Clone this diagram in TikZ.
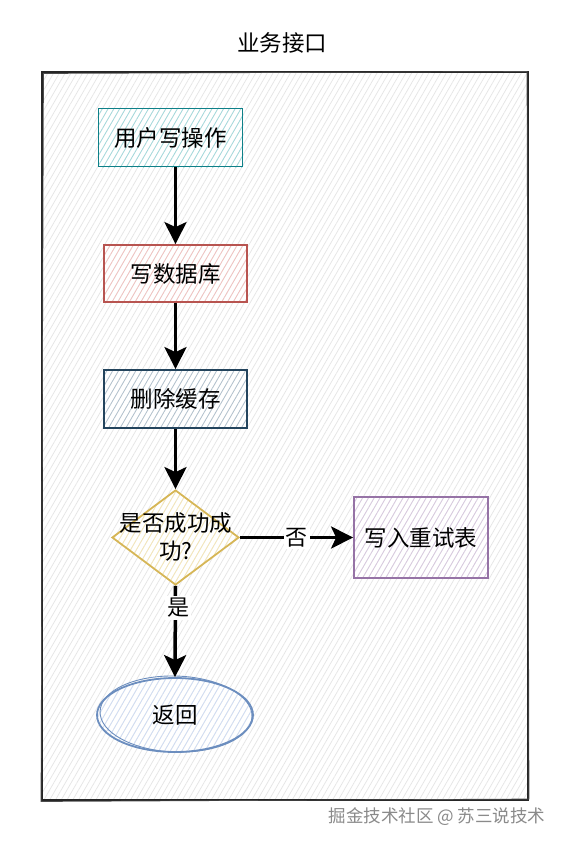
\documentclass[tikz,border=0pt]{standalone}
\usepackage{fontspec}
\setmainfont{Noto Sans CJK SC}
\usetikzlibrary{shapes.geometric,arrows.meta,patterns.meta}
\definecolor{tealS}{HTML}{0E8088}\definecolor{tealF}{HTML}{9FDADD}
\definecolor{redS}{HTML}{B85450}\definecolor{redF}{HTML}{F3C0BE}
\definecolor{navyS}{HTML}{23445D}\definecolor{navyF}{HTML}{AFC0CD}
\definecolor{yelS}{HTML}{D6B656}\definecolor{yelF}{HTML}{F7E7B4}
\definecolor{purS}{HTML}{9673A6}\definecolor{purF}{HTML}{D8C8E0}
\definecolor{bluS}{HTML}{6C8EBF}\definecolor{bluF}{HTML}{CFDDF5}
\definecolor{wm}{HTML}{8A8A8A}
\tikzset{
  hatch/.style={pattern={Lines[angle=60,distance=5pt,line width=0.7pt]},pattern color=#1},
  procbox/.style={draw=#1,line width=1.8pt,minimum width=144pt,minimum height=58pt,inner sep=0pt,font=\fontsize{22.5}{26}\selectfont},
  flow/.style={line width=3.5pt,-{Stealth[length=22pt,width=22pt,inset=5pt]}},
  elabel/.style={fill=white,inner sep=2pt,font=\fontsize{22}{26}\selectfont}
}
\begin{document}
\begin{tikzpicture}[x=1pt,y=-1pt]
\useasboundingbox (0,0) rectangle (564,846);
\fill[white] (0,0) rectangle (564,846);
% frame
\node[font=\fontsize{22.5}{26}\selectfont] (title) at (282,43) {业务接口};
\fill[hatch=black!10] (42,72) rectangle (528,800);
\draw[line width=1.8pt,black!85] (42,72) rectangle (528,800);
\draw[line width=0.7pt,black!70] (43.5,73.5) -- (527,71.5) -- (529,799) -- (41,801.5) -- cycle;
% nodes
\path[hatch=tealF] (98,108) rectangle (243,167);
\node[procbox=tealS] (n1) at (170.5,137.5) {用户写操作};
\path[hatch=redF] (104,245) rectangle (247,302);
\node[procbox=redS,minimum width=143pt,minimum height=57pt] (n2) at (175.5,273.5) {写数据库};
\path[hatch=navyF] (104,370) rectangle (247,428);
\node[procbox=navyS,minimum width=143pt] (n3) at (175.5,399) {删除缓存};
\path[hatch=yelF] (112,537) -- (175,490) -- (239,537) -- (175,585) -- cycle;
\node[diamond,draw=yelS,line width=1.8pt,minimum width=127pt,minimum height=95pt,inner sep=0pt] (d) at (175.5,537.5) {};
\node[align=center,font=\fontsize{22.5}{28}\selectfont] (dtext) at (176,537) {是否成功成\\功?};
\path[hatch=purF] (354,497) rectangle (488,578);
\node[procbox=purS,minimum width=134pt,minimum height=81pt] (n4) at (421,537.5) {写入重试表};
\path[hatch=bluF] (175,715) ellipse (78 and 37);
\node[ellipse,draw=bluS,line width=1.8pt,minimum width=156pt,minimum height=74pt,inner sep=0pt,font=\fontsize{22.5}{26}\selectfont] (n5) at (175,715) {返回};
\draw[bluS,line width=0.9pt,rotate around={-2:(175,715)}] (176,714) ellipse (76 and 38);
% connectors
\draw[flow] (n1.south -| n2.north) -- (n2.north);
\draw[flow] (n2.south) -- (n3.north);
\draw[flow] (n3.south) -- (d.north);
\draw[flow] (d.east) -- node[elabel] {否} (n4.west);
\draw[flow] (d.south) -- (n5.north);
\node[elabel] (yes) at (178,608) {是};
% watermark
\node[text=wm,font=\fontsize{17.5}{20}\selectfont] (wmark) at (437,817) {掘金技术社区 @ 苏三说技术};
\end{tikzpicture}
\end{document}
